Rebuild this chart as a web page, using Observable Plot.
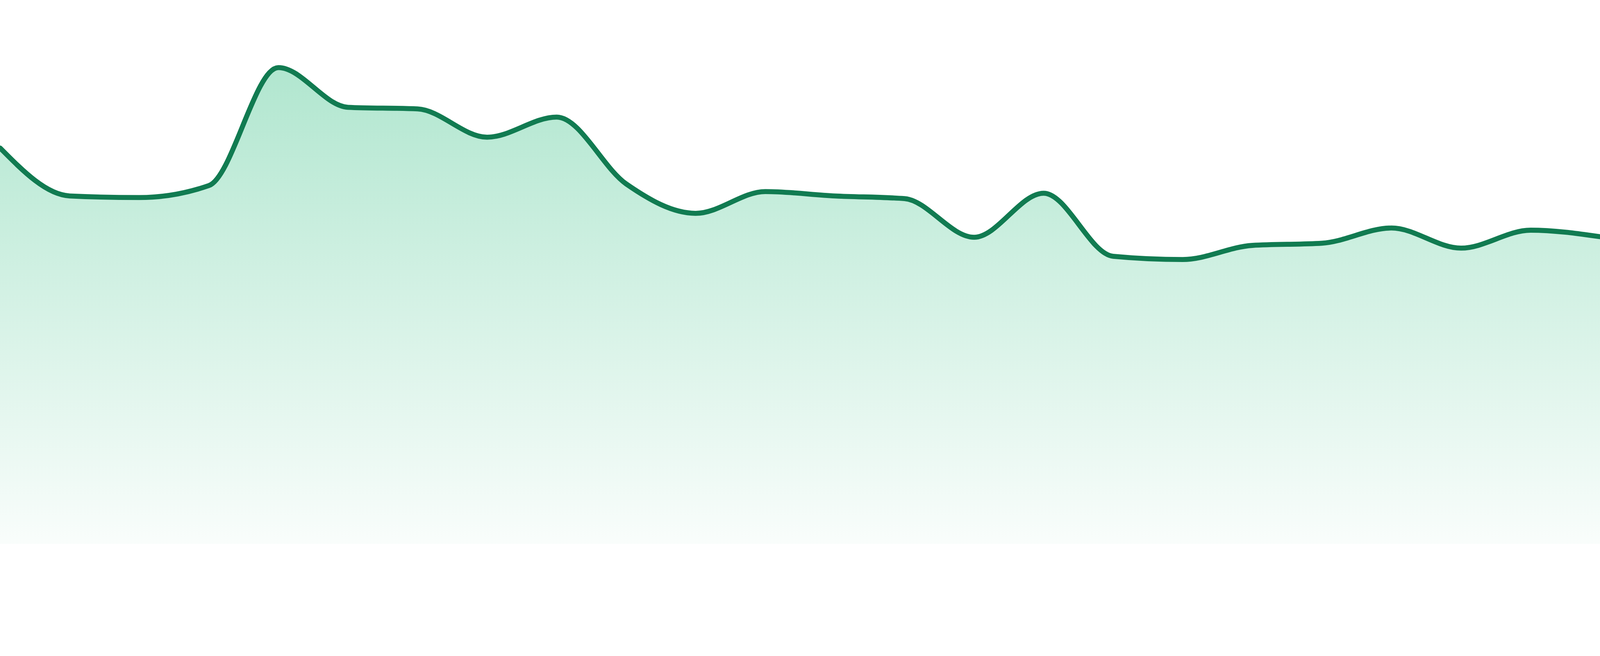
<!DOCTYPE html>
<html>
<head>
<meta charset="utf-8">
<script src="https://cdn.jsdelivr.net/npm/d3@7"></script>
<script src="https://cdn.jsdelivr.net/npm/@observablehq/plot@0.6"></script>
<style>
  html, body { margin: 0; padding: 0; background: #ffffff; }
  #chart svg { display: block; }
</style>
</head>
<body>
<div id="chart"></div>
<script>
// Sample index (evenly spaced points across the width)
const steps = [1,2,3,4,5,6,7,8,9,10,11,12,13,14,15,16,17,18,19,20,21,22,23,24];
// Series values (0–100 scale)
const values = [72.8, 64.0, 63.7, 65.9, 87.6, 80.3, 80.0, 74.8, 78.5, 66.2, 60.8, 64.8,
                64.0, 63.5, 56.4, 64.5, 52.9, 52.3, 54.9, 55.3, 58.1, 54.4, 57.7, 56.5];

const data = steps.map((s, i) => ({step: s, value: values[i]}));

const gradient = () => {
  const svgNS = "http://www.w3.org/2000/svg";
  const defs = document.createElementNS(svgNS, "defs");
  const lg = document.createElementNS(svgNS, "linearGradient");
  lg.setAttribute("id", "areaFill");
  lg.setAttribute("x1", "0"); lg.setAttribute("y1", "0");
  lg.setAttribute("x2", "0"); lg.setAttribute("y2", "1");
  const s0 = document.createElementNS(svgNS, "stop");
  s0.setAttribute("offset", "0%");
  s0.setAttribute("stop-color", "#12b46e");
  s0.setAttribute("stop-opacity", "0.33");
  const s1 = document.createElementNS(svgNS, "stop");
  s1.setAttribute("offset", "100%");
  s1.setAttribute("stop-color", "#12b46e");
  s1.setAttribute("stop-opacity", "0.025");
  lg.appendChild(s0); lg.appendChild(s1);
  defs.appendChild(lg);
  return defs;
};

const chart = Plot.plot({
  width: 4800,
  height: 1680,
  marginTop: 0,
  marginRight: 0,
  marginLeft: 0,
  marginBottom: 48,
  x: {domain: [1, 24], axis: null},
  y: {domain: [0, 100], axis: null},
  marks: [
    gradient,
    Plot.areaY(data, {x: "step", y: "value", fill: "url(#areaFill)", curve: "monotone-x"}),
    Plot.lineY(data, {x: "step", y: "value", stroke: "#117b51", strokeWidth: 15, curve: "monotone-x"})
  ]
});
document.getElementById("chart").appendChild(chart);
</script>
</body>
</html>
